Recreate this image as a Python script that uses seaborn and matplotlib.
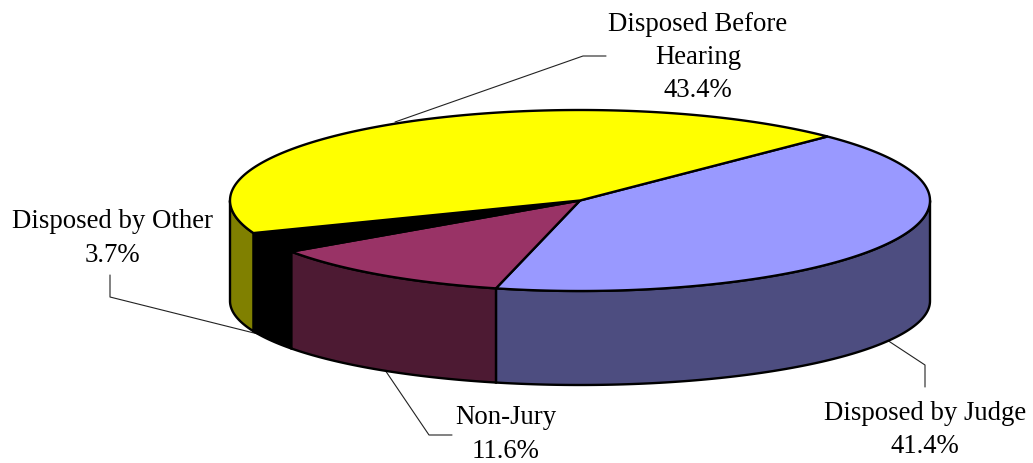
import numpy as np
import pandas as pd
import matplotlib.pyplot as plt
from matplotlib.patches import Polygon
import seaborn as sns

# Fatias na ordem do desenho, a partir do topo direito e em sentido horario
categories = ['Disposed by Judge', 'Non-Jury', 'Disposed by Other', 'Disposed Before Hearing']
shares = [41.4, 11.6, 3.7, 43.4]
top_colors = ['#9999FF', '#993366', '#000000', '#FFFF00']
side_colors = ['#4D4D80', '#4D1A33', '#000000', '#808000']

START_ANGLE = 45.0
CX, CY = 580, 200.5
RX, RY = 350, 90.5
BOTTOM_CY, BOTTOM_RY = 301, 84
EDGE_LW = 1.7

sns.set_theme(style='white')
plt.rcParams['font.family'] = ['Liberation Serif', 'DejaVu Serif']

fig = plt.figure(figsize=(10.33, 4.63), dpi=100)
ax = fig.add_axes([0, 0, 1, 1])


def top_point(t):
    t = np.radians(t)
    return CX + RX * np.cos(t), CY - RY * np.sin(t)


def bottom_point(t):
    t = np.radians(t)
    return CX + RX * np.cos(t), BOTTOM_CY - BOTTOM_RY * np.sin(t)


# angulos das fatias
sweeps = np.array(shares) / sum(shares) * 360
ends = START_ANGLE - np.cumsum(sweeps)
starts = ends + sweeps

# paredes laterais (so a metade da frente aparece: -180 a 0 graus)
for t0, t1, col in zip(starts, ends, side_colors):
    lo = max(t1, -180)
    hi = min(t0, 0)
    if hi <= lo:
        continue
    ts = np.linspace(lo, hi, 120)
    tx, ty = top_point(ts)
    bx, by = bottom_point(ts)
    pts = np.column_stack([np.r_[tx, bx[::-1]], np.r_[ty, by[::-1]]])
    ax.add_patch(Polygon(pts, closed=True, facecolor=col, edgecolor='black', lw=EDGE_LW, zorder=2))

# tampo
for t0, t1, col in zip(starts, ends, top_colors):
    ts = np.linspace(t0, t1, 240)
    x, y = top_point(ts)
    pts = np.column_stack([np.r_[CX, x], np.r_[CY, y]])
    ax.add_patch(Polygon(pts, closed=True, facecolor=col, edgecolor='black', lw=EDGE_LW, zorder=3))

# linhas de chamada
leaders = {
    'Disposed Before Hearing': ([395, 583, 606], [122, 56, 56]),
    'Disposed by Other': ([110, 110, 258], [275, 297, 334]),
    'Non-Jury': ([385, 429, 452], [370, 435, 435]),
    'Disposed by Judge': ([887, 925, 925], [340, 365, 387]),
}
for name, (lx, ly) in leaders.items():
    df_line = pd.DataFrame({'x': lx, 'y': ly})
    sns.lineplot(data=df_line, x='x', y='y', sort=False, estimator=None,
                 color='#222222', lw=0.8, ax=ax, zorder=1)
ax.set_xlim(0, 1033)
ax.set_ylim(463, 0)
ax.axis('off')

# rotulos
label_text = {
    'Disposed Before Hearing': 'Disposed Before\nHearing\n{:.1f}%',
    'Disposed by Other': 'Disposed by Other\n{:.1f}%',
    'Non-Jury': 'Non-Jury\n{:.1f}%',
    'Disposed by Judge': 'Disposed by Judge\n{:.1f}%',
}
label_pos = {
    'Disposed Before Hearing': (698, 57.5),
    'Disposed by Other': (112, 238.5),
    'Non-Jury': (506, 434.5),
    'Disposed by Judge': (925, 430),
}
for name, share in zip(categories, shares):
    px, py = label_pos[name]
    ax.text(px, py, label_text[name].format(share), ha='center', va='center',
            fontsize=19.3, color='black', linespacing=1.44, zorder=5)

fig.savefig('out.png', dpi=100)
plt.close(fig)
